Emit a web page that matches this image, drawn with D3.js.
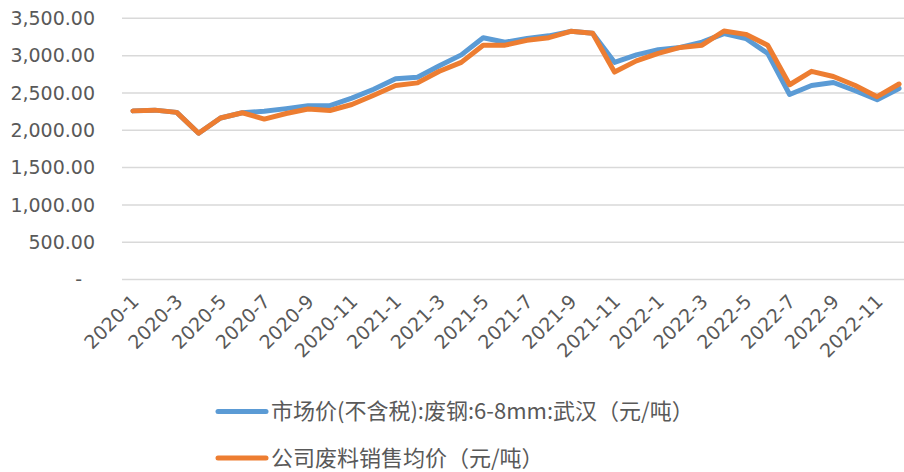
<!DOCTYPE html>
<html>
<head>
<meta charset="utf-8">
<script src="https://cdn.jsdelivr.net/npm/d3@7"></script>
<style>
    body { margin: 0; background: #fff; }
    svg text { font-family: "DejaVu Sans", "Noto Sans CJK SC", sans-serif; fill: #595959; }
    svg text.legend-label { font-family: "Noto Sans CJK SC", sans-serif; }
</style>
</head>
<body>
<div id="chart"></div>
<script>
// months 2020-1 .. 2022-12
const months = [];
[2020, 2021, 2022].forEach(y => { for (let m = 1; m <= 12; m++) months.push(`${y}-${m}`); });

const seriesNames = ["市场价(不含税):废钢:6-8mm:武汉（元/吨）", "公司废料销售均价（元/吨）"];
const seriesColors = ["#5B9BD5", "#ED7D31"];

// market price, scrap steel 6-8mm, Wuhan
const marketPrice = [2260, 2270, 2240, 1960, 2165, 2235, 2255, 2290, 2330, 2330, 2430, 2550,
    2690, 2710, 2865, 3010, 3240, 3180, 3230, 3265, 3325, 3300, 2910, 3010,
    3080, 3110, 3180, 3295, 3230, 3030, 2480, 2600, 2640, 2530, 2410, 2560];

// company scrap average sale price
const companyPrice = [2260, 2270, 2240, 1960, 2165, 2235, 2150, 2225, 2285, 2265, 2345, 2470,
    2600, 2635, 2790, 2910, 3140, 3140, 3205, 3240, 3325, 3300, 2780, 2930,
    3030, 3110, 3140, 3330, 3285, 3140, 2610, 2790, 2720, 2600, 2450, 2620];

const yTicks = [0, 500, 1000, 1500, 2000, 2500, 3000, 3500];

const width = 904, height = 472;
const plot = { left: 122, right: 910, top: 18.3, bottom: 279.6 };

const svg = d3.select("#chart").append("svg")
    .attr("width", width)
    .attr("height", height);

const x = d3.scaleBand()
    .domain(months)
    .range([plot.left, plot.right]);

const y = d3.scaleLinear()
    .domain([0, 3500])
    .range([plot.bottom, plot.top]);

// gridlines
svg.append("g")
    .selectAll("line")
    .data(yTicks)
    .enter()
    .append("line")
    .attr("x1", plot.left)
    .attr("x2", width)
    .attr("y1", d => y(d))
    .attr("y2", d => y(d))
    .attr("stroke", "#D9D9D9")
    .attr("stroke-width", 1.5);

// y axis labels
const fmt = d3.format(",.2f");
const yAxis = svg.append("g")
    .attr("transform", "translate(95,0)")
    .call(d3.axisLeft(y).tickValues(yTicks).tickSize(0).tickPadding(0)
        .tickFormat(d => d === 0 ? "-" : fmt(d)));
yAxis.select(".domain").remove();
yAxis.selectAll("text")
    .style("font-size", "19px")
    .attr("fill", "#595959")
    .attr("dx", d => d === 0 ? -13 : 0);

// x axis labels, every second month
const xAxis = svg.append("g")
    .attr("transform", `translate(0,${plot.bottom})`)
    .call(d3.axisBottom(x).tickValues(months.filter((d, i) => i % 2 === 0)).tickSize(0));
xAxis.select(".domain").remove();
xAxis.selectAll("text")
    .style("font-size", "19px")
    .attr("fill", "#595959")
    .attr("text-anchor", "end")
    .attr("dy", 0)
    .attr("y", 0)
    .attr("transform", "translate(7,23) rotate(-45)");

// lines
const line = d3.line()
    .x((d, i) => x(months[i]) + x.bandwidth() / 2)
    .y(d => y(d));

[marketPrice, companyPrice].forEach((values, k) => {
    svg.append("path")
        .datum(values)
        .attr("d", line)
        .attr("fill", "none")
        .attr("stroke", seriesColors[k])
        .attr("stroke-width", 5)
        .attr("stroke-linejoin", "round")
        .attr("stroke-linecap", "round");
});

// legend
const legend = svg.append("g");
seriesNames.forEach((name, k) => {
    const ly = 411.5 + k * 46.5;
    legend.append("line")
        .attr("x1", 218).attr("x2", 266)
        .attr("y1", ly).attr("y2", ly)
        .attr("stroke", seriesColors[k])
        .attr("stroke-width", 5)
        .attr("stroke-linecap", "round");
    legend.append("text")
        .attr("class", "legend-label")
        .attr("x", 271)
        .attr("y", ly)
        .attr("dy", "0.35em")
        .style("font-size", "22px")
        .text(name);
});
</script>
</body>
</html>
